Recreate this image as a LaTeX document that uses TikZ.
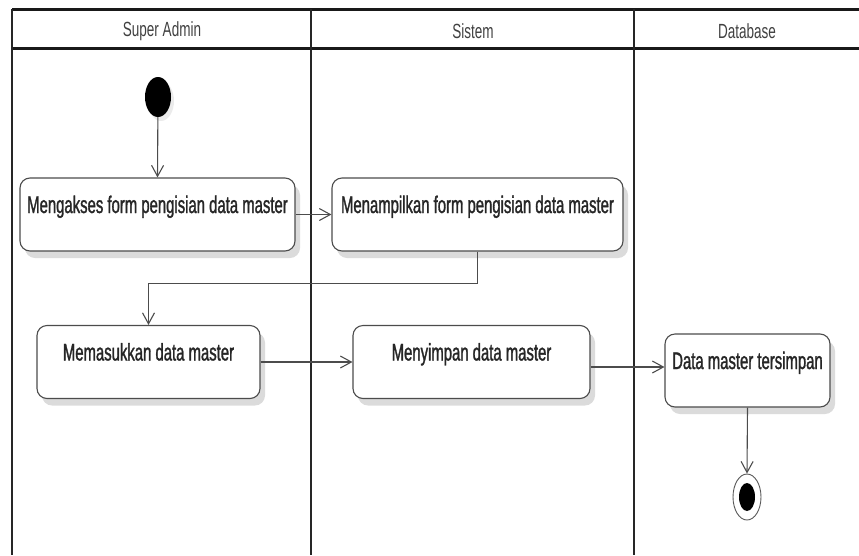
\documentclass[tikz,border=0pt]{standalone}
\usepackage{fontspec}
\setmainfont{Liberation Sans}[FakeStretch=0.62,FakeBold=1.2]
\newfontfamily\lanefont{Liberation Sans}[FakeStretch=0.66]
\usetikzlibrary{shapes.geometric,arrows.meta,shadows}
\begin{document}
\begin{tikzpicture}[x=1pt,y=-1pt,
  lane/.style={line width=2.2pt,black!85},
  lanetitle/.style={font=\lanefont\fontsize{20.5}{24}\selectfont,text=black!75,inner sep=0pt},
  act/.style={draw=black!70,line width=1.1pt,fill=white,rounded corners=10pt,
    minimum height=73pt,inner sep=0pt,text height=28.5pt,text depth=31.5pt,
    font=\fontsize{24}{28}\selectfont,text=black!85,
    drop shadow={shadow xshift=5pt,shadow yshift=-7pt,fill=black!14,opacity=1}},
  flow/.style={draw=black!70,line width=1.1pt,-{Straight Barb[length=11pt,width=12pt]}},
  startnode/.style={ellipse,fill=black,minimum width=26pt,minimum height=40pt,inner sep=0pt,
    drop shadow={shadow xshift=3pt,shadow yshift=-4pt,fill=black!8,opacity=1}},
  endnode/.style={ellipse,draw=black!65,line width=0.9pt,fill=white,minimum width=28pt,minimum height=46pt,inner sep=0pt,
    path picture={\fill[black] (path picture bounding box.center) ellipse (8pt and 14pt);}}
]
\useasboundingbox (0,0) rectangle (859,555);

% swimlane frame
\draw[line width=3pt,black!90] (12,9) -- (859,9);
\draw[line width=3pt,black!90] (12,48) -- (859,48);
\draw[lane] (12,9) -- (12,555);
\draw[lane] (311,9) -- (311,555);
\draw[lane] (634,9) -- (634,555);

% lane titles
\node[lanetitle] (h1) at (162,31) {Super Admin};
\node[lanetitle] (h2) at (473,31) {Sistem};
\node[lanetitle] (h3) at (747,31) {Database};

% activity nodes
\node[startnode] (start) at (158,97) {};
\node[act,minimum width=275pt] (b1) at (157.5,214.5) {Mengakses form pengisian data master};
\node[act,minimum width=291pt] (b2) at (477.5,214.5) {Menampilkan form pengisian data master};
\node[act,minimum width=223pt] (b3) at (148.5,362) {Memasukkan data master};
\node[act,minimum width=237pt] (b4) at (471.5,362) {Menyimpan data master};
\node[act,minimum width=165pt] (b5) at (747.5,370.5) {Data master tersimpan};
\node[endnode] (end) at (747,497) {};

% control flow
\draw[flow] (start) -- (b1.north);
\draw[flow] (b1.east) -- (b2.west);
\draw[flow] (b2.south) -- ++(0,32) -| (b3.north);
\draw[flow] (b3.east) -- (b4.west);
\draw[flow] (b4.east |- 0,367) -- (b5.west |- 0,367);
\draw[flow] (b5.south) -- (end.north);
\end{tikzpicture}
\end{document}
